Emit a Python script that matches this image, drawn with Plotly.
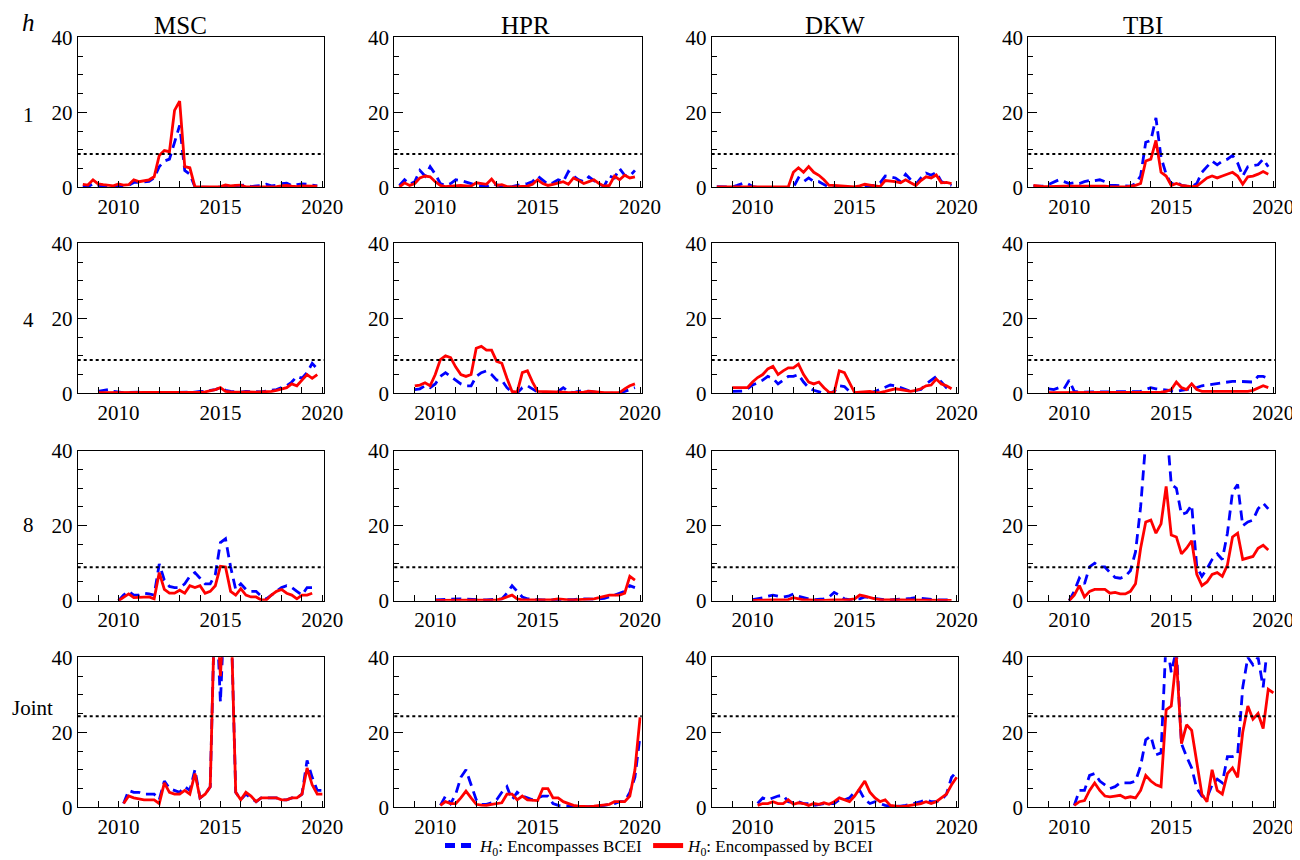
import plotly.graph_objects as go

# ---------------- data (quarterly) ----------------
COLS = ["MSC", "HPR", "DKW", "TBI"]
ROWS = ["1", "4", "8", "Joint"]
ROW_START = [2008.25, 2009.0, 2010.0, 2010.25]   # first quarter of each row's series
THRESH = [8.9, 8.9, 8.9, 24.3]                   # dotted critical values

# h = 1
msc_h1_blue = [0.3, 0.1, 1.0, 0.5, 0.2, 0.1, 0.1, 0.3, 0.3, 0.5, 1.3, 1.3, 1.4, 1.6, 2.5, 5.5, 7.0, 7.5, 12.0, 16.5, 4.5, 3.5, 0.1, 0.0,
               0.0, 0.0, 0.0, 0.0, 0.1, 0.3, 0.4, 0.4, 0.6, 0.2, 0.3, 0.5, 0.8, 0.4, 0.5, 1.0, 1.1, 0.5, 0.7, 0.9, 0.8, 0.5, 0.4]
msc_h1_red = [0.8, 0.6, 2.0, 0.9, 0.7, 0.5, 0.4, 0.9, 0.6, 0.7, 2.0, 1.5, 1.7, 2.0, 2.8, 8.5, 9.8, 9.5, 20.5, 23.0, 5.5, 5.2, 0.1, 0.0,
              0.1, 0.1, 0.1, 0.2, 0.6, 0.4, 0.5, 0.6, 0.1, 0.1, 0.2, 0.3, 0.2, 0.3, 0.2, 0.4, 0.5, 0.3, 0.2, 0.4, 0.3, 0.3, 0.3]
hpr_h1_blue = [0.5, 2.0, 0.8, 1.5, 4.5, 3.0, 5.5, 3.5, 1.0, 0.5, 1.0, 2.0, 1.8, 1.5, 1.0, 0.5, 0.3, 0.2, 1.0, 0.6, 0.4, 0.0, 0.2, 0.6,
               0.8, 1.0, 1.5, 3.0, 1.8, 0.8, 1.2, 2.0, 1.5, 4.2, 3.0, 2.0, 1.5, 2.8, 1.8, 0.8, 0.3, 3.0, 2.5, 5.0, 3.2, 3.0, 4.5]
hpr_h1_red = [0.1, 1.2, 0.5, 1.0, 2.5, 3.0, 2.8, 1.5, 0.5, 0.2, 0.3, 0.4, 0.5, 0.4, 0.3, 1.2, 1.0, 0.8, 2.2, 0.5, 0.7, 0.2, 0.1, 0.1,
              0.2, 0.3, 0.8, 2.0, 1.0, 0.5, 0.8, 1.2, 1.5, 0.8, 2.5, 1.8, 1.0, 1.5, 2.0, 1.0, 0.3, 0.5, 3.0, 2.0, 3.2, 2.5, 2.8]
dkw_h1_blue = [0.2, 0.2, 0.1, 0.1, 0.5, 1.0, 1.0, 0.2, 0.0, 0.0, 0.1, 0.0, 0.0, 0.2, 0.0, 0.0, 2.5, 1.5, 2.5, 1.5, 1.5, 0.8, 0.0, 0.0,
               0.0, 0.0, 0.0, 0.0, 0.0, 0.3, 0.5, 0.5, 1.2, 3.0, 2.8, 2.5, 1.5, 3.5, 2.0, 0.8, 2.5, 3.8, 3.2, 4.0, 1.5, 1.0, 0.5]
dkw_h1_red = [0.1, 0.1, 0.1, 0.1, 0.1, 0.1, 0.1, 0.1, 0.1, 0.1, 0.1, 0.1, 0.1, 0.1, 0.1, 4.0, 5.2, 4.0, 5.5, 4.0, 3.2, 2.0, 0.5, 0.5,
              0.4, 0.3, 0.2, 0.1, 0.4, 0.8, 0.6, 0.4, 0.2, 1.8, 1.7, 1.5, 1.2, 2.0, 1.2, 0.5, 1.8, 2.8, 2.5, 3.3, 1.2, 1.3, 1.0]
tbi_h1_blue = [0.3, 0.2, 0.3, 0.8, 1.5, 2.0, 1.5, 1.0, 1.2, 1.0, 1.5, 1.8, 1.8, 2.0, 1.5, 0.5, 0.5, 0.4, 0.3, 0.3, 1.0, 3.0, 12.0, 12.5,
               18.5, 8.0, 3.5, 0.8, 1.5, 0.5, 0.3, 0.2, 1.0, 4.0, 5.5, 7.0, 6.0, 7.0, 7.5, 8.5, 6.5, 3.0, 5.5, 5.8, 6.0, 7.5, 5.5]
tbi_h1_red = [0.5, 0.3, 0.2, 0.2, 0.3, 0.3, 0.3, 0.3, 0.3, 0.3, 0.4, 0.5, 0.5, 0.4, 0.3, 0.2, 0.1, 0.1, 0.1, 0.2, 0.5, 1.0, 7.0, 7.5,
              12.5, 4.0, 3.0, 0.5, 1.0, 0.5, 0.3, 0.2, 0.3, 1.5, 2.5, 3.0, 2.5, 3.0, 3.5, 4.0, 3.0, 0.8, 2.8, 3.0, 3.5, 4.2, 3.5]

# h = 4
msc_h4_blue = [0.5, 0.8, 1.0, 0.5, 0.3, 0.2, 0.2, 0.3, 0.3, 0.2, 0.2, 0.2, 0.3, 0.3, 0.3, 0.4, 0.3, 0.3, 0.2, 0.3, 0.5, 0.5,
               0.8, 1.0, 1.5, 0.8, 0.5, 0.3, 0.3, 0.5, 0.4, 0.3, 0.4, 0.6, 0.8, 1.0, 1.5, 2.0, 3.0, 4.5, 4.0, 5.5, 8.0, 6.5]
msc_h4_red = [0.2, 0.2, 0.3, 0.2, 0.1, 0.1, 0.1, 0.1, 0.2, 0.2, 0.2, 0.2, 0.2, 0.2, 0.2, 0.3, 0.2, 0.3, 0.2, 0.3, 0.3, 0.4,
              0.6, 1.0, 1.5, 0.5, 0.4, 0.3, 0.3, 0.4, 0.3, 0.3, 0.4, 0.5, 0.5, 0.8, 1.2, 1.5, 2.5, 2.0, 3.5, 5.0, 4.0, 5.0]
hpr_h4_blue = [1.0, 1.2, 2.0, 1.5, 2.5, 4.5, 5.5, 4.5, 3.5, 2.5, 2.0, 2.0, 4.5, 5.5, 6.0, 5.0, 3.5, 3.5, 1.5, 0.3, 0.1, 1.5,
               2.0, 1.2, 0.3, 0.0, 0.0, 0.0, 0.5, 1.5, 0.5, 0.2, 0.5, 0.8, 0.5, 0.3, 0.1, 0.0, 0.0, 0.1, 0.2, 0.5, 1.0, 1.5]
hpr_h4_red = [2.0, 2.2, 2.8, 2.0, 5.0, 9.0, 10.0, 9.5, 7.0, 5.0, 4.5, 5.0, 12.0, 12.5, 11.5, 11.5, 8.5, 8.0, 4.0, 0.5, 0.3, 5.5,
              6.0, 3.0, 0.5, 0.5, 0.5, 0.5, 0.3, 0.3, 0.2, 0.2, 0.1, 0.3, 0.6, 0.5, 0.2, 0.2, 0.2, 0.2, 0.2, 1.2, 2.0, 2.5]
dkw_h4_blue = [0.5, 0.5, 0.6, 1.2, 2.2, 2.8, 3.5, 4.5, 4.0, 2.5, 3.5, 4.5, 4.5, 5.0, 3.0, 1.5, 0.8, 0.5, 0.0, 0.0, 0.5, 2.0,
               1.8, 0.5, 0.0, 0.0, 0.0, 0.0, 0.5, 1.0, 1.5, 2.2, 2.0, 1.5, 1.0, 0.5, 0.8, 1.0, 2.5, 3.5, 4.5, 3.0, 1.5, 1.0]
dkw_h4_red = [1.5, 1.5, 1.5, 1.5, 3.0, 4.2, 5.0, 6.5, 7.2, 5.0, 6.0, 6.8, 6.8, 7.8, 5.0, 3.0, 2.5, 3.0, 1.5, 0.3, 0.2, 6.0,
              5.5, 3.0, 0.2, 0.3, 0.3, 0.5, 0.2, 0.2, 0.5, 0.8, 1.2, 1.0, 0.8, 0.5, 0.8, 1.2, 2.0, 2.2, 3.8, 2.5, 2.0, 1.2]
tbi_h4_blue = [1.2, 1.0, 1.5, 1.2, 3.5, 0.5, 0.3, 0.3, 0.3, 0.3, 0.3, 0.3, 0.3, 0.3, 0.3, 0.3, 0.3, 0.3, 0.5, 1.0, 1.5, 1.2,
               1.0, 0.8, 0.5, 0.5, 0.8, 1.0, 1.2, 1.5, 2.0, 2.2, 2.5, 2.8, 3.0, 3.0, 3.2, 3.2, 3.2, 3.0, 3.0, 4.5, 4.5, 4.0]
tbi_h4_red = [0.2, 0.2, 0.3, 0.2, 0.3, 0.2, 0.2, 0.2, 0.2, 0.2, 0.2, 0.2, 0.2, 0.2, 0.2, 0.2, 0.2, 0.2, 0.2, 0.2, 0.2, 0.2,
              0.3, 0.5, 1.0, 3.0, 1.5, 1.0, 2.5, 1.0, 0.5, 0.5, 0.5, 0.5, 0.5, 0.5, 0.5, 0.5, 0.5, 0.5, 0.8, 1.5, 2.0, 1.5]

# h = 8
msc_h8_blue = [0.0, 1.5, 2.5, 1.5, 1.5, 2.0, 1.8, 1.5, 9.8, 5.5, 3.8, 3.5, 3.5, 4.5, 6.5, 7.5, 6.0, 4.5, 4.5, 7.0,
               15.5, 16.5, 9.0, 3.0, 4.5, 3.0, 2.5, 2.5, 1.2, 0.5, 1.5, 2.5, 3.5, 4.0, 3.5, 2.5, 1.5, 3.5, 3.5]
msc_h8_red = [0.0, 1.0, 1.8, 0.8, 0.8, 0.8, 1.0, 0.5, 7.5, 3.0, 2.0, 2.0, 2.8, 2.0, 4.0, 3.5, 4.0, 2.0, 2.5, 4.0,
              9.2, 9.0, 2.5, 1.5, 3.2, 1.5, 1.0, 1.0, 0.2, 0.2, 1.5, 2.5, 3.0, 2.0, 1.5, 0.5, 1.5, 1.5, 2.0]
hpr_h8_blue = [0.2, 0.3, 0.3, 0.5, 0.6, 0.5, 0.4, 0.3, 0.3, 0.2, 0.2, 0.3, 0.3, 0.5, 2.0, 4.0, 2.5, 1.0, 0.5, 0.3,
               0.3, 0.2, 0.2, 0.3, 0.2, 0.2, 0.3, 0.3, 0.5, 0.4, 0.3, 0.4, 0.5, 0.6, 1.0, 1.5, 2.0, 2.5, 4.0, 3.5]
hpr_h8_red = [0.1, 0.1, 0.1, 0.1, 0.1, 0.1, 0.1, 0.1, 0.1, 0.1, 0.1, 0.1, 0.2, 0.5, 1.0, 1.5, 0.5, 0.2, 0.2, 0.2,
              0.2, 0.2, 0.2, 0.3, 0.5, 0.3, 0.2, 0.2, 0.3, 0.3, 0.3, 0.5, 0.8, 1.2, 1.5, 1.5, 1.5, 2.0, 6.5, 5.5]
dkw_h8_blue = [0.3, 0.5, 0.8, 1.2, 1.5, 1.2, 1.0, 1.2, 1.8, 1.2, 0.8, 0.5, 0.3, 0.4, 0.5, 1.0, 2.2, 1.5, 0.5, 0.3,
               0.3, 0.5, 1.0, 0.8, 0.5, 0.3, 0.2, 0.2, 0.3, 0.3, 0.5, 0.6, 0.8, 0.6, 0.5, 0.3, 0.2, 0.2, 0.2, 0.2]
dkw_h8_red = [0.1, 0.1, 0.2, 0.2, 0.2, 0.2, 0.2, 0.3, 0.8, 0.5, 0.2, 0.2, 0.1, 0.1, 0.1, 0.2, 0.2, 0.2, 0.2, 0.3,
              0.5, 1.5, 1.2, 0.8, 0.5, 0.3, 0.2, 0.2, 0.2, 0.2, 0.2, 0.2, 0.3, 0.3, 0.2, 0.2, 0.2, 0.1, 0.1, 0.1]
tbi_h8_blue = [0.0, 2.5, 6.0, 4.5, 9.0, 10.0, 9.0, 9.0, 7.5, 6.2, 6.0, 6.5, 8.0, 13.0, 25.0, 48.0, 60.0, 65.0, 60.0, 48.0,
               31.0, 30.0, 23.0, 23.5, 25.5, 9.0, 6.5, 8.5, 11.0, 12.5, 11.0, 18.0, 29.0, 31.0, 20.0, 21.0, 21.5, 24.5, 26.0, 24.5]
tbi_h8_red = [0.0, 1.5, 4.0, 1.0, 2.5, 3.0, 3.0, 3.0, 2.0, 2.2, 1.8, 1.8, 2.5, 4.5, 14.0, 21.0, 21.5, 18.0, 20.5, 30.5,
              17.5, 17.0, 12.5, 14.0, 16.0, 7.0, 4.0, 5.0, 7.0, 7.5, 6.5, 9.5, 17.0, 18.0, 11.0, 11.5, 11.8, 14.0, 14.8, 13.5]

# Joint
msc_j_blue = [1.0, 4.5, 4.0, 4.0, 3.5, 3.5, 3.5, 2.0, 7.0, 5.0, 4.5, 4.0, 5.5, 4.5, 10.0, 2.5, 3.5, 5.5, 60.0, 28.0,
              60.0, 55.0, 4.0, 2.0, 3.5, 2.5, 1.5, 2.5, 2.5, 2.5, 2.5, 2.0, 2.0, 2.5, 2.5, 3.5, 12.5, 8.0, 4.5, 4.5]
msc_j_red = [1.0, 3.0, 2.5, 2.2, 2.0, 2.0, 2.0, 1.0, 6.5, 4.0, 3.5, 3.5, 4.5, 3.5, 9.0, 2.5, 3.5, 5.5, 60.0, 35.0,
             60.0, 55.0, 4.0, 2.0, 4.0, 3.0, 1.5, 2.5, 2.5, 2.5, 2.5, 2.0, 2.0, 2.5, 2.5, 3.5, 10.5, 6.0, 3.5, 3.5]
hpr_j_blue = [0.5, 3.0, 1.0, 3.5, 8.0, 10.0, 6.0, 2.0, 0.8, 0.8, 1.2, 2.0, 4.0, 5.5, 2.0, 4.0, 3.0, 2.5, 2.0, 2.5,
              3.0, 3.0, 1.0, 0.5, 0.4, 0.3, 0.1, 0.0, 0.1, 0.2, 0.3, 0.5, 0.5, 0.8, 1.0, 1.5, 1.5, 4.0, 8.0, 19.0]
hpr_j_red = [0.5, 1.5, 1.0, 1.0, 2.5, 4.3, 2.5, 0.8, 0.6, 0.5, 0.8, 1.0, 1.2, 3.5, 3.5, 2.0, 3.0, 2.0, 1.8, 1.8,
             5.0, 5.0, 2.5, 2.5, 1.5, 1.0, 0.5, 0.3, 0.2, 0.2, 0.3, 0.5, 0.5, 0.8, 1.5, 1.5, 1.5, 3.0, 10.0, 24.0]
dkw_j_blue = [1.0, 2.5, 2.0, 2.5, 3.0, 3.2, 1.5, 1.2, 1.5, 1.0, 1.0, 0.5, 0.8, 1.0, 1.0, 1.0, 2.0, 2.0, 2.5, 4.0,
              4.5, 2.0, 1.0, 1.5, 1.0, 0.5, 0.3, 0.2, 0.3, 0.5, 0.8, 1.0, 1.5, 2.0, 1.5, 1.5, 2.0, 3.5, 8.0, 9.5]
dkw_j_red = [0.5, 1.0, 1.0, 1.5, 1.0, 1.0, 2.0, 0.8, 1.2, 1.0, 0.5, 1.0, 0.8, 1.2, 0.8, 1.5, 2.5, 2.0, 1.5, 3.0,
             5.0, 7.0, 4.0, 2.5, 1.5, 2.0, 0.5, 0.3, 0.2, 0.3, 0.5, 0.8, 1.0, 1.5, 1.0, 1.5, 2.5, 3.5, 6.0, 8.0]
tbi_j_blue = [0.5, 4.5, 4.5, 8.5, 9.0, 7.0, 6.0, 5.0, 5.5, 6.5, 6.5, 6.5, 7.0, 11.0, 18.0, 19.0, 14.0, 14.5, 45.0, 36.0,
              42.0, 17.0, 13.5, 10.5, 5.0, 3.0, 2.5, 6.0, 7.5, 6.5, 13.5, 13.5, 14.0, 32.0, 40.0, 38.0, 40.0, 32.0, 45.0, 50.0]
tbi_j_red = [0.5, 1.5, 1.8, 4.5, 6.5, 4.5, 3.0, 2.8, 3.0, 3.2, 2.5, 2.8, 2.5, 4.5, 8.5, 7.0, 6.0, 5.5, 26.0, 27.0,
             40.0, 17.0, 22.0, 20.5, 12.0, 3.5, 1.5, 10.0, 4.5, 3.5, 9.0, 10.5, 8.0, 20.0, 27.0, 23.5, 25.0, 21.0, 31.5, 30.5]

BLUE = [[msc_h1_blue, hpr_h1_blue, dkw_h1_blue, tbi_h1_blue],
        [msc_h4_blue, hpr_h4_blue, dkw_h4_blue, tbi_h4_blue],
        [msc_h8_blue, hpr_h8_blue, dkw_h8_blue, tbi_h8_blue],
        [msc_j_blue, hpr_j_blue, dkw_j_blue, tbi_j_blue]]
RED = [[msc_h1_red, hpr_h1_red, dkw_h1_red, tbi_h1_red],
       [msc_h4_red, hpr_h4_red, dkw_h4_red, tbi_h4_red],
       [msc_h8_red, hpr_h8_red, dkw_h8_red, tbi_h8_red],
       [msc_j_red, hpr_j_red, dkw_j_red, tbi_j_red]]

LEG_BLUE = "<i>H</i><sub>0</sub>: Encompasses BCEI"
LEG_RED = "<i>H</i><sub>0</sub>: Encompassed by BCEI"

# ---------------- layout geometry ----------------
# The page body has an 8px margin, so the figure is 8px smaller than the window
# and all positions below are given in window pixels, then shifted by OFF.
OFF = 8
W, H = 1300 - OFF, 860 - OFF
COL_PX = [(77.7, 324.0), (394.3, 641.7), (711.7, 958.3), (1028.3, 1275.0)]
ROW_PX = [(37.3, 187.3), (243.3, 393.3), (450.7, 600.7), (657.3, 807.3)]
FONT = "Liberation Serif"


def fx(px):
    return (px - OFF) / W


def fy(py):
    return 1 - (py - OFF) / H


fig = go.Figure()
layout = {}
shapes = []
for r in range(4):
    for c in range(4):
        k = r * 4 + c + 1
        xa = "x" if k == 1 else f"x{k}"
        ya = "y" if k == 1 else f"y{k}"
        xkey = "xaxis" if k == 1 else f"xaxis{k}"
        ykey = "yaxis" if k == 1 else f"yaxis{k}"
        x0, x1 = COL_PX[c]
        y0, y1 = ROW_PX[r]
        layout[xkey] = dict(
            domain=[fx(x0), fx(x1)], anchor=ya, range=[2008, 2020.08], automargin=False,
            tick0=2010, dtick=5, ticks="inside", ticklen=6, tickwidth=1, tickcolor="black",
            minor=dict(ticks="inside", dtick=1, tick0=2010, ticklen=6, tickwidth=1, tickcolor="black"),
            showline=True, linecolor="black", linewidth=1, mirror=True,
            showgrid=False, zeroline=False, tickfont=dict(family=FONT, size=21, color="black"),
            fixedrange=True)
        layout[ykey] = dict(
            domain=[fy(y1), fy(y0)], anchor=xa, range=[0, 40], automargin=False,
            tick0=0, dtick=20, ticks="inside", ticklen=9, tickwidth=1, tickcolor="black",
            minor=dict(ticks="inside", dtick=5, ticklen=5, tickwidth=1, tickcolor="black"),
            showline=True, linecolor="black", linewidth=1, mirror=True,
            showgrid=False, zeroline=False, tickfont=dict(family=FONT, size=21, color="black"),
            fixedrange=True)
        b = BLUE[r][c]
        rd = RED[r][c]
        xb = [ROW_START[r] + 0.25 * i for i in range(len(b))]
        xr = [ROW_START[r] + 0.25 * i for i in range(len(rd))]
        fig.add_trace(go.Scatter(x=xb, y=b, mode="lines", xaxis=xa, yaxis=ya,
                                 line=dict(color="#0000FF", width=2.8, dash="10px,6px"),
                                 name=LEG_BLUE, legendgroup="b", showlegend=(k == 1)))
        fig.add_trace(go.Scatter(x=xr, y=rd, mode="lines", xaxis=xa, yaxis=ya,
                                 line=dict(color="#FF0000", width=2.8),
                                 name=LEG_RED, legendgroup="r", showlegend=(k == 1)))
        shapes.append(dict(type="line", xref=f"{xa} domain", yref=ya, x0=0, x1=1,
                           y0=THRESH[r], y1=THRESH[r],
                           line=dict(color="black", width=2, dash="dot")))

ann = []
for name, px in zip(COLS, [180, 525, 835, 1143]):
    ann.append(dict(text=name, x=fx(px), y=fy(25), xref="paper", yref="paper",
                    showarrow=False, xanchor="center", yanchor="middle",
                    font=dict(family=FONT, size=25, color="black")))
ann.append(dict(text="<i>h</i>", x=fx(28), y=fy(22), xref="paper", yref="paper",
                showarrow=False, xanchor="center", yanchor="middle",
                font=dict(family=FONT, size=25, color="black")))
for lab, (px, py) in zip(ROWS, [(28, 115), (28, 320), (28, 525), (32, 708)]):
    ann.append(dict(text=lab, x=fx(px), y=fy(py), xref="paper", yref="paper",
                    showarrow=False, xanchor="center", yanchor="middle",
                    font=dict(family=FONT, size=21, color="black")))

fig.update_layout(
    width=W, height=H, autosize=False,
    margin=dict(l=0, r=0, t=0, b=0, pad=0, autoexpand=False),
    paper_bgcolor="white", plot_bgcolor="white",
    shapes=shapes, annotations=ann,
    showlegend=True,
    legend=dict(orientation="h", xref="container", yref="container",
                x=fx(660), xanchor="center", y=fy(846), yanchor="middle",
                font=dict(family=FONT, size=17, color="black"), bgcolor="rgba(0,0,0,0)",
                tracegroupgap=0, itemsizing="constant"),
    **layout)

fig.write_html("out.html")
